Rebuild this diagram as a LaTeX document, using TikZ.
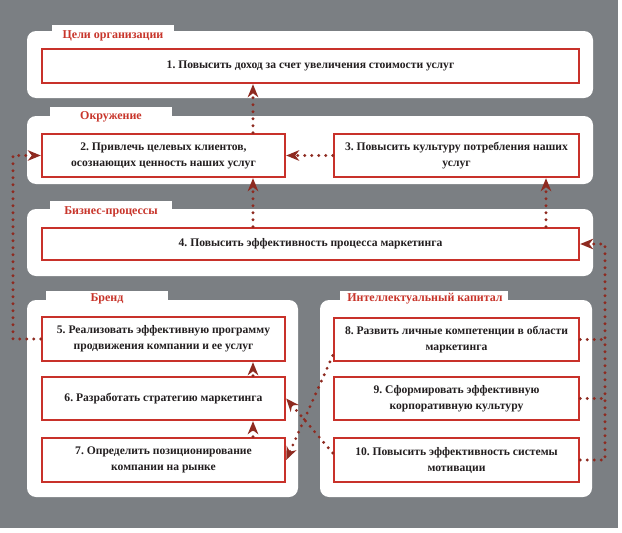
\documentclass[tikz,border=0pt]{standalone}
\usepackage{fontspec}
\setmainfont{Liberation Serif}
\frenchspacing
\usetikzlibrary{arrows.meta,calc}
\definecolor{bggray}{HTML}{7B7F83}
\definecolor{framered}{HTML}{C8312A}
\definecolor{arrowred}{HTML}{8E2A20}
\definecolor{labelred}{HTML}{C8352B}
\definecolor{txt}{HTML}{231F20}
\tikzset{
  panel/.style={fill=white, rounded corners=9pt},
  tab/.style={fill=white},
  plabel/.style={text=labelred, font=\bfseries\fontsize{12}{14}\selectfont, inner sep=0pt},
  gbox/.style={draw=framered, fill=white, line width=2.4pt, inner sep=0pt, align=center,
    text=txt, font=\bfseries\fontsize{11.6}{16}\selectfont},
  dots/.style={draw=arrowred, line width=3.2pt, dash pattern=on 0pt off 7pt, line cap=round},
  arr/.style={dots, -{Stealth[length=13pt,width=10.5pt,inset=4pt,fill=arrowred]}},
}
\begin{document}
\begin{tikzpicture}[x=1pt,y=-1pt]
\useasboundingbox (0,0) rectangle (622,533);
\fill[bggray] (0,0) rectangle (618,528);
% panels
\fill[panel] (27,31) rectangle (593,98);
\fill[tab] (52,25) rectangle (174,40);
\fill[panel] (27,116) rectangle (593,184);
\fill[tab] (50,107) rectangle (172,120);
\fill[panel] (27,209) rectangle (593,276);
\fill[tab] (50,201) rectangle (172,215);
\fill[panel] (27,300) rectangle (298,497);
\fill[tab] (46,291) rectangle (168,305);
\fill[panel] (320,300) rectangle (592,497);
\fill[tab] (340,291) rectangle (508,305);
% panel labels
\node[plabel] (l1) at (113,36) {Цели организации};
\node[plabel] (l2) at (111,117) {Окружение};
\node[plabel] (l3) at (111,212) {Бизнес-процессы};
\node[plabel] (l4) at (107,299) {Бренд};
\node[plabel] (l5) at (425,299) {Интеллектуальный капитал};
% boxes
\node[gbox, minimum width=537pt, minimum height=34pt] (b1) at (310.5,66) {1. Повысить доход за счет увеличения стоимости услуг};
\node[gbox, minimum width=243pt, minimum height=43pt] (b2) at (163.5,155.5) {2. Привлечь целевых клиентов,\\осознающих ценность наших услуг};
\node[gbox, minimum width=245pt, minimum height=43pt] (b3) at (456.5,155.5) {3. Повысить культуру потребления наших\\услуг};
\node[gbox, minimum width=537pt, minimum height=32pt] (b4) at (310.5,244) {4. Повысить эффективность процесса маркетинга};
\node[gbox, minimum width=243pt, minimum height=44pt] (b5) at (163.5,339) {5. Реализовать эффективную программу\\продвижения компании и ее услуг};
\node[gbox, minimum width=243pt, minimum height=43pt] (b6) at (163.5,398.5) {6. Разработать стратегию маркетинга};
\node[gbox, minimum width=243pt, minimum height=44pt] (b7) at (163.5,460) {7. Определить позиционирование\\компании на рынке};
\node[gbox, minimum width=245pt, minimum height=43pt] (b8) at (456.5,339.5) {8. Развить личные компетенции в области\\маркетинга};
\node[gbox, minimum width=245pt, minimum height=43pt] (b9) at (456.5,398.5) {9. Сформировать эффективную\\корпоративную культуру};
\node[gbox, minimum width=245pt, minimum height=44pt] (b10) at (456.5,460) {10. Повысить эффективность системы\\мотивации};
% helper coordinates
\coordinate (cx) at (253,0);
\coordinate (cx2) at (546,0);
\coordinate (cl) at (13,0);
\coordinate (cr) at (605,0);
% connectors
\draw[arr] (b4.north -| cx) -- (b2.south -| cx);
\draw[arr] (b2.north -| cx) -- (b1.south -| cx);
\draw[arr] (b3.west) -- (b2.east);
\draw[arr] (b4.north -| cx2) -- (b3.south -| cx2);
\draw[arr] (b5.west) -- (b5.west -| cl) -- (cl |- b2.west) -- (b2.west);
\draw[arr] (b6.north -| cx) -- (b5.south -| cx);
\draw[arr] (b7.north -| cx) -- (b6.south -| cx);
\draw[arr] ($(b10.west)+(0,-7)$) -- (b6.east);
\draw[arr] ($(b8.west)+(0,16)$) -- (b7.east);
\draw[dots] (b8.east) -- (b8.east -| cr);
\draw[dots] (b9.east) -- (b9.east -| cr);
\draw[arr] (b10.east) -- (b10.east -| cr) -- (cr |- b4.east) -- (b4.east);
\end{tikzpicture}
\end{document}
